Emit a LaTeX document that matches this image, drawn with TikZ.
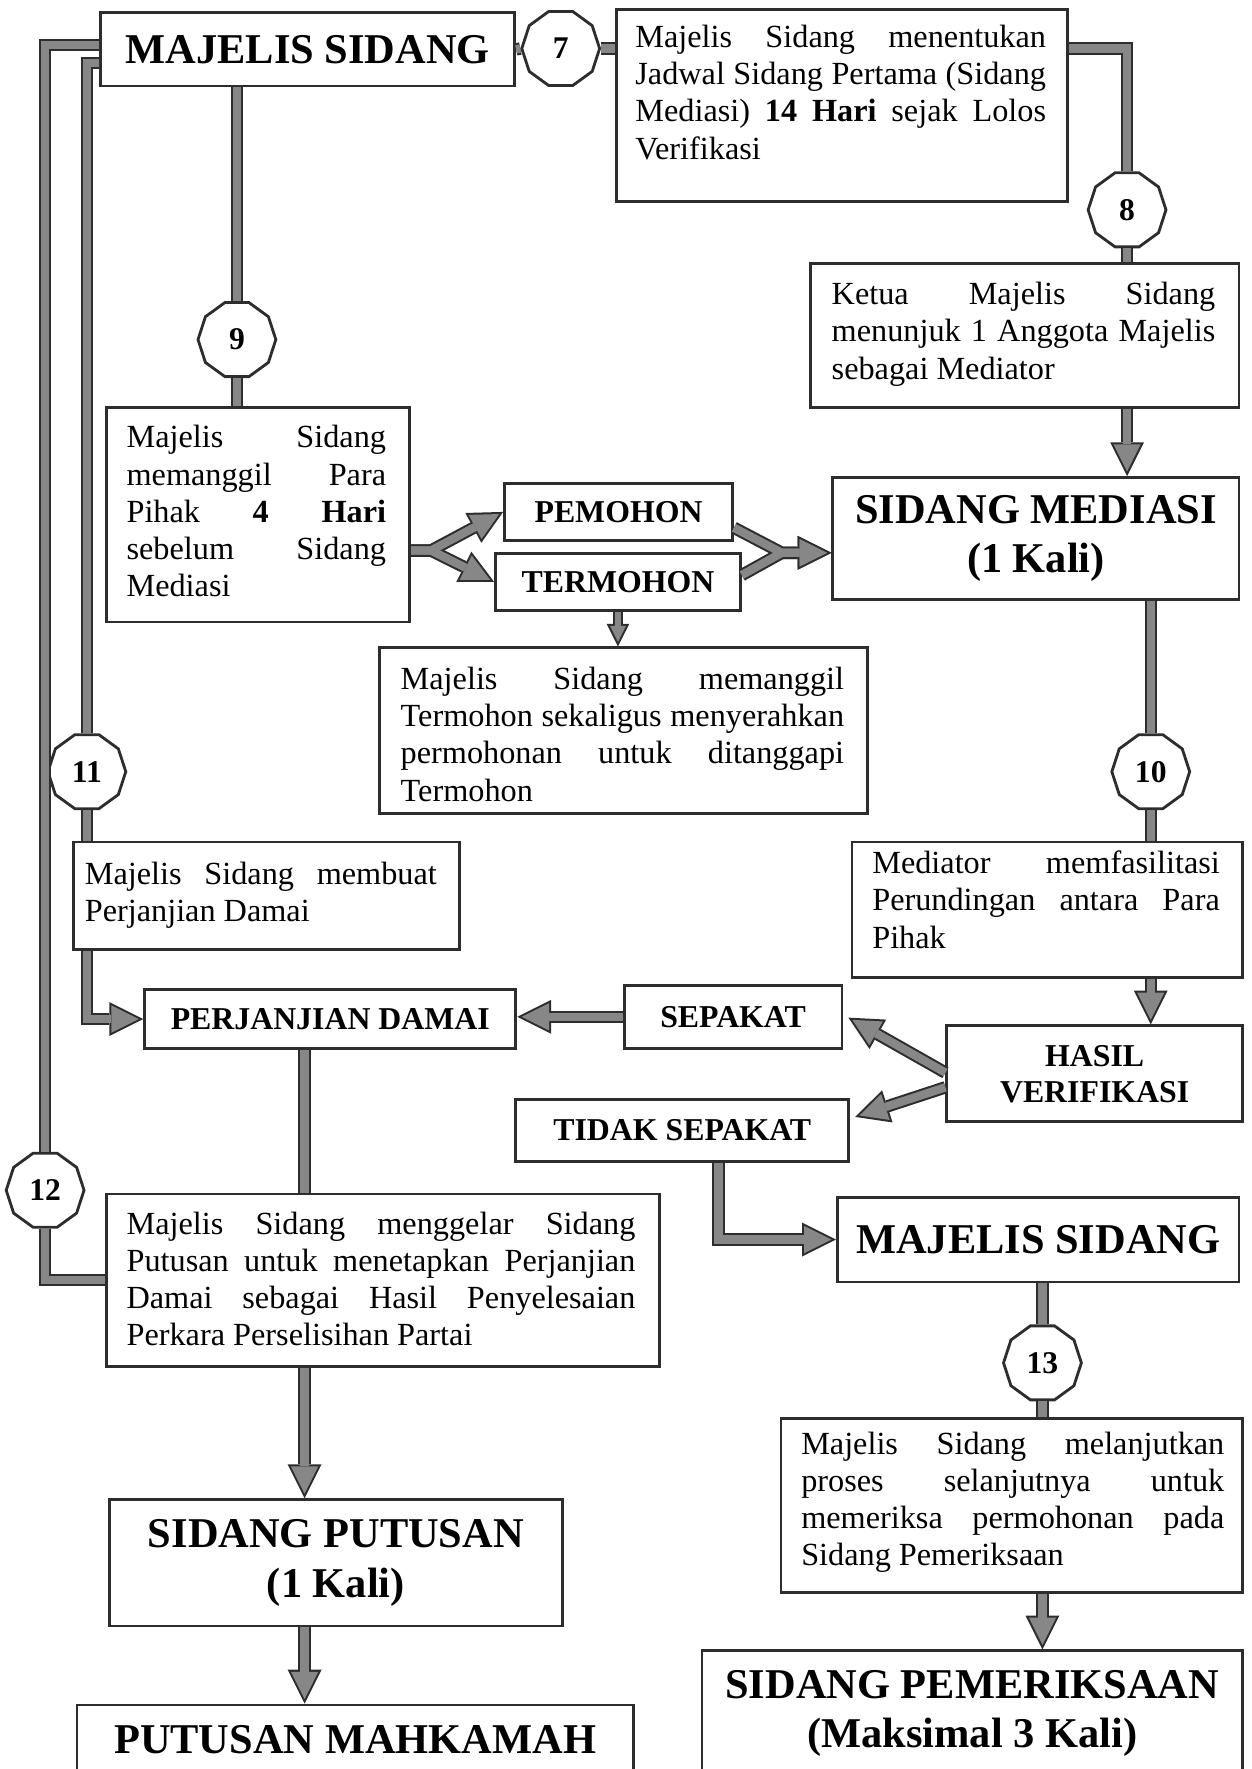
\documentclass[tikz,border=0pt]{standalone}
\usepackage{fontspec}
\setmainfont{Liberation Serif}
\usetikzlibrary{shapes.geometric,arrows.meta,calc}
\definecolor{dk}{RGB}{45,45,45}
\definecolor{gr}{RGB}{135,135,135}
\newcommand\J[2]{\hbox to #1{#2}}
\newcommand\links[4]{%
  \draw[#1] (ms1.east) -- (o7.west);
  \draw[#1] (o7.east) -- (bA.west |- o7.east);
  \draw[#1] (bA.east |- o7.east) -| (o8.north);
  \draw[#1] (o8.south) -- (bB.north -| o8.south);
  \draw[#1,#2] (bB.south -| o8.south) -- (sm.north -| o8.south);
  \draw[#1] (sm.south -| o10.north) -- (o10.north);
  \draw[#1] (o10.south) -- (bC.north -| o10.south);
  \draw[#1,#2] (bC.south -| o10.south) -- (hv.north -| o10.south);
  \draw[#1,#2] ($(hv.west)+(0,-1)$) -- (tipS);
  \draw[#1,#2] ($(hv.west)+(0,12)$) -- (tipT);
  \draw[#1,#2] (sep.west) -- (pd.east |- sep.west);
  \draw[#1,#2] (ts.south -| xT) |- (ms2.west);
  \draw[#1] (ms2.south -| o13.north) -- (o13.north);
  \draw[#1] (o13.south) -- (bD.north -| o13.south);
  \draw[#1,#2] (bD.south -| o13.south) -- (spem.north -| o13.south);
  \draw[#1] (ms1.south -| o9.north) -- (o9.north);
  \draw[#1] (o9.south) -- (bE.north -| o9.south);
  \draw[#1,#2] (bE.east |- F) -- (F) -- (pem.west);
  \draw[#1,#2] (bE.east |- F) -- (F) -- (term.west);
  \draw[#1,#2] ($(term.east)+(0,-6)$) -- (M) -- (sm.west |- M);
  \draw[#1,#2] ($(pem.east)+(0,14)$) -- (M) -- (sm.west |- M);
  \draw[#3,#4] (term.south) -- (bF.north -| term.south);
  \draw[#1] ($(ms1.north west)+(0,30)$) -| (o12.north);
  \draw[#1] (o12.south) |- (bG.west);
  \draw[#1] ($(ms1.north west)+(0,46)$) -| (o11.north);
  \draw[#1] (o11.south) -- (bH.north -| o11.south);
  \draw[#1,#2] (bH.south -| o11.south) |- (pd.west);
  \draw[#1] (pd.south -| xL) -- (bG.north -| xL);
  \draw[#1,#2] (bG.south -| xL) -- (sp.north -| xL);
  \draw[#1,#2] (sp.south -| xL) -- (pm.north -| xL);
}
\begin{document}
\begin{tikzpicture}[x=1pt,y=-1pt,
  tbox/.style={draw=dk, line width=2.5pt, inner sep=0pt, rectangle, fill=white, anchor=north west},
  oct/.style={regular polygon, regular polygon sides=10, draw=dk, line width=2.5pt, minimum size=69pt, inner sep=0pt, fill=white, font=\fontsize{28}{30}\selectfont\bfseries},
  big/.style={font=\fontsize{37.6}{44}\selectfont\bfseries, align=center},
  mid/.style={font=\fontsize{28.2}{32}\selectfont\bfseries, align=center},
  body/.style={font=\fontsize{28.6}{33}\selectfont, inner sep=0pt, anchor=north west},
  Lo/.style={draw=dk, line width=11pt, line join=miter},
  Li/.style={draw=gr, line width=7.4pt, line join=miter},
  Ao/.style={-{Triangle[length=30pt,width=30pt,line width=0pt]}},
  Ai/.style={shorten >=4pt, -{Triangle[length=24.2pt,width=24.2pt,line width=0pt]}},
  So/.style={draw=dk, line width=9pt},
  Si/.style={draw=gr, line width=5.6pt},
  Sao/.style={-{Triangle[length=20pt,width=20pt,line width=0pt]}},
  Sai/.style={shorten >=4pt, -{Triangle[length=14.2pt,width=14.2pt,line width=0pt]}}
]
\clip (0,0) rectangle (1109,1568);
\fill[white] (0,0) rectangle (1109,1568);

% title boxes
\node[tbox, big, minimum width=367pt, minimum height=65pt] (ms1) at (88,10) {MAJELIS SIDANG};
\node[tbox, big, minimum width=360pt, minimum height=108pt] (sm) at (737,422) {SIDANG MEDIASI\\(1 Kali)};
\node[tbox, mid, minimum width=202pt, minimum height=51pt] (pem) at (446,427) {PEMOHON};
\node[tbox, mid, minimum width=217pt, minimum height=51pt] (term) at (438,489) {TERMOHON};
\node[tbox, mid, minimum width=262pt, minimum height=85pt] (hv) at (838,908) {HASIL\\VERIFIKASI};
\node[tbox, mid, minimum width=193pt, minimum height=56pt] (sep) at (552,872) {SEPAKAT};
\node[tbox, mid, minimum width=295pt, minimum height=55pt] (ts) at (456,973) {TIDAK SEPAKAT};
\node[tbox, mid, minimum width=329pt, minimum height=52pt] (pd) at (127,876) {PERJANJIAN DAMAI};
\node[tbox, big, minimum width=356pt, minimum height=75pt] (ms2) at (741,1060) {MAJELIS SIDANG};
\node[tbox, big, minimum width=401pt, minimum height=112pt] (sp) at (96,1328) {SIDANG PUTUSAN\\(1 Kali)};
\node[tbox, big, minimum width=493pt, minimum height=62pt] (pm) at (67,1510) {PUTUSAN MAHKAMAH};
\node[tbox, big, minimum width=479pt, minimum height=111pt] (spem) at (621,1462) {SIDANG PEMERIKSAAN\\(Maksimal 3 Kali)};

% text boxes
\node[tbox, minimum width=400pt, minimum height=170pt] (bA) at (545,7) {};
\node[tbox, minimum width=380pt, minimum height=128pt] (bB) at (717,232) {};
\node[tbox, minimum width=269pt, minimum height=190pt] (bE) at (93,360) {};
\node[tbox, minimum width=433pt, minimum height=147pt] (bF) at (335,573) {};
\node[tbox, minimum width=342pt, minimum height=95pt] (bH) at (64,745) {};
\node[tbox, minimum width=346pt, minimum height=120pt] (bC) at (754,745) {};
\node[tbox, minimum width=490pt, minimum height=153pt] (bG) at (93,1057) {};
\node[tbox, minimum width=409pt, minimum height=154pt] (bD) at (691,1256) {};

\node[body] (tA) at (563,22) {\vbox{\J{364pt}{Majelis Sidang menentukan}\J{364pt}{Jadwal Sidang Pertama (Sidang}\J{364pt}{Mediasi) \textbf{14 Hari} sejak Lolos}\hbox{Verifikasi}}};
\node[body] (tB) at (737,250) {\vbox{\J{340pt}{Ketua Majelis Sidang}\J{340pt}{menunjuk 1 Anggota Majelis}\hbox{sebagai Mediator}}};
\node[body] (tE) at (112,377) {\vbox{\J{230pt}{Majelis Sidang}\J{230pt}{memanggil Para}\J{230pt}{Pihak \textbf{4} \textbf{Hari}}\J{230pt}{sebelum Sidang}\hbox{Mediasi}}};
\node[body] (tF) at (355,591) {\vbox{\J{393pt}{Majelis Sidang memanggil}\J{393pt}{Termohon sekaligus menyerahkan}\J{393pt}{permohonan untuk ditanggapi}\hbox{Termohon}}};
\node[body] (tH) at (75,764) {\vbox{\J{312pt}{Majelis Sidang membuat}\hbox{Perjanjian Damai}}};
\node[body] (tC) at (773,754) {\vbox{\J{308pt}{Mediator memfasilitasi}\J{308pt}{Perundingan antara Para}\hbox{Pihak}}};
\node[body] (tG) at (112,1074) {\vbox{\J{451pt}{Majelis Sidang menggelar Sidang}\J{451pt}{Putusan untuk menetapkan Perjanjian}\J{451pt}{Damai sebagai Hasil Penyelesaian}\hbox{Perkara Perselisihan Partai}}};
\node[body] (tD) at (710,1269) {\vbox{\J{375pt}{Majelis Sidang melanjutkan}\J{375pt}{proses selanjutnya untuk}\J{375pt}{memeriksa permohonan pada}\hbox{Sidang Pemeriksaan}}};

% octagons
\node[oct] (o7) at (497,43) {7};
\node[oct] (o8) at (999,186) {8};
\node[oct] (o9) at (210,301) {9};
\node[oct] (o10) at (1020,684) {10};
\node[oct] (o11) at (77,684) {11};
\node[oct] (o12) at (40,1055) {12};
\node[oct] (o13) at (924,1208) {13};

% helper coordinates
\coordinate (F) at (382,488);
\coordinate (M) at (693,490);
\coordinate (tipS) at (752,902);
\coordinate (tipT) at (758,990);
\coordinate (xT) at (637,0);
\coordinate (xL) at (270,0);

\links{Lo}{Ao}{So}{Sao}
\links{Li}{Ai}{Si}{Sai}
\end{tikzpicture}
\end{document}
